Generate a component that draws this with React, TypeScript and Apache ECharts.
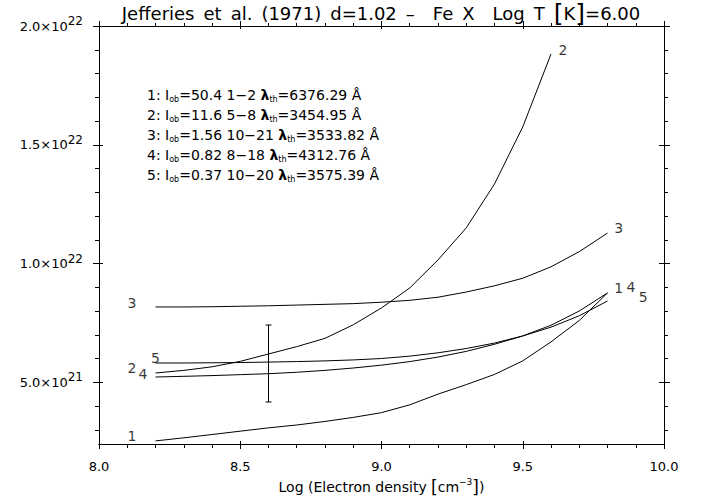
import React, { useEffect, useRef } from "react";
import * as echarts from "echarts";

const FONT = "DejaVu Sans";

// x: log electron density
const densityLog = [8.2, 8.3, 8.4, 8.5, 8.6, 8.7, 8.8, 8.9, 9.0, 9.1, 9.2, 9.3, 9.4, 9.5, 9.6, 9.7, 9.8];
// y values in units of 1e21
const curve1 = [2.53, 2.66, 2.8, 2.94, 3.08, 3.2, 3.35, 3.52, 3.72, 4.05, 4.5, 4.9, 5.33, 5.9, 6.7, 7.6, 8.76];
const curve2 = [5.39, 5.5, 5.65, 5.88, 6.19, 6.5, 6.85, 7.42, 8.13, 8.97, 10.15, 11.5, 13.35, 15.75, 18.82];
const curve3 = [8.17, 8.17, 8.18, 8.2, 8.22, 8.25, 8.28, 8.31, 8.37, 8.45, 8.58, 8.8, 9.06, 9.38, 9.86, 10.5, 11.28];
const curve4 = [5.22, 5.25, 5.28, 5.32, 5.36, 5.42, 5.5, 5.6, 5.72, 5.87, 6.06, 6.3, 6.6, 6.95, 7.4, 8.0, 8.76];
const curve5 = [5.81, 5.81, 5.82, 5.83, 5.85, 5.87, 5.9, 5.94, 6.0, 6.1, 6.24, 6.42, 6.65, 6.95, 7.32, 7.8, 8.42];
const curves = [curve1, curve2, curve3, curve4, curve5];

const UNIT_EXP = 21;
const xRange = [8, 10];
const yRange = [2.4, 20];
const xTickStep = 0.5;
const yLabelValues = [5, 10, 15, 20];
const yMinorValues = [3, 4, 6, 7, 8, 9, 11, 12, 13, 14, 16, 17, 18, 19];

// error bar: [x, low, high]
const errorBar = [[8.6, 4.17, 7.41]];

// curve number labels: [x, y, text]
const curveLabels: [number, number, string][] = [
  [8.117, 8.34, "3"],
  [8.2, 6.02, "5"],
  [8.117, 5.6, "2"],
  [8.156, 5.35, "4"],
  [8.117, 2.74, "1"],
  [9.642, 18.99, "2"],
  [9.84, 11.5, "3"],
  [9.84, 8.97, "1"],
  [9.883, 9.01, "4"],
  [9.926, 8.59, "5"],
];

const SP = "\u2002";
const titleText = `Jefferies${SP}et${SP}al.${SP}(1971)${SP}d=1.02${SP}\u2013${SP}${SP}Fe${SP}X${SP}${SP}Log${SP}T${SP}{br|[}K{br|]}=6.00`;
const legendLines = [
  "1: I{sub|ob}=50.4 1\u22122 {lam|\u03bb}{sub|th}=6376.29 \u00c5",
  "2: I{sub|ob}=11.6 5\u22128 {lam|\u03bb}{sub|th}=3454.95 \u00c5",
  "3: I{sub|ob}=1.56 10\u221221 {lam|\u03bb}{sub|th}=3533.82 \u00c5",
  "4: I{sub|ob}=0.82 8\u221218 {lam|\u03bb}{sub|th}=4312.76 \u00c5",
  "5: I{sub|ob}=0.37 10\u221220 {lam|\u03bb}{sub|th}=3575.39 \u00c5",
];
const xAxisName = "Log (Electron density {br|[}cm{sup|\u22123}{br|]})";

function sciLabel(v: number) {
  const val = v * Math.pow(10, UNIT_EXP);
  const e = Math.floor(Math.log10(val) + 1e-9);
  const m = val / Math.pow(10, e);
  return `{b|${m.toFixed(1)}\u00d710}{sup|${e}}`;
}

export default function App() {
  const ref = useRef<HTMLDivElement>(null);
  useEffect(() => {
    if (!ref.current) return;
    const chart = echarts.init(ref.current, undefined, { renderer: "svg" });
    const black = "#000";
    const lineAxis = { show: true, lineStyle: { color: black, width: 1 } };

    const xBase = (extra: any) => ({
      type: "value",
      min: xRange[0],
      max: xRange[1],
      interval: xTickStep,
      axisLine: lineAxis,
      splitLine: { show: false },
      axisLabel: { show: false },
      ...extra,
    });
    const yBase = (extra: any) => ({
      type: "value",
      min: yRange[0],
      max: yRange[1],
      axisLine: lineAxis,
      splitLine: { show: false },
      axisLabel: { show: false },
      ...extra,
    });

    const option: any = {
      animation: false,
      backgroundColor: "#fff",
      grid: { left: 99, right: 42, top: 26, bottom: 53, containLabel: false, outerBoundsMode: "none" },
      xAxis: [
        xBase({
          position: "bottom",
          axisTick: { show: true, inside: false, length: 5, lineStyle: { color: black } },
          minorTick: { show: true, splitNumber: 5, length: 4, lineStyle: { color: black } },
          axisLabel: {
            show: true,
            margin: 16,
            fontSize: 13,
            fontFamily: FONT,
            color: black,
            formatter: (v: number) => v.toFixed(1),
          },
          name: xAxisName,
          nameLocation: "middle",
          nameGap: 27,
          nameTextStyle: {
            fontSize: 14,
            fontFamily: FONT,
            color: black,
            lineHeight: 18,
            rich: {
              br: { fontSize: 17, fontFamily: FONT, color: black, lineHeight: 18 },
              sup: { fontSize: 9, fontFamily: FONT, color: black, lineHeight: 10, verticalAlign: "top" },
            },
          },
        }),
        xBase({ position: "bottom", axisTick: { show: true, inside: true, length: 3, lineStyle: { color: black } } }),
        xBase({
          position: "top",
          axisTick: { show: true, inside: false, length: 5, lineStyle: { color: black } },
          minorTick: { show: true, splitNumber: 5, length: 3, lineStyle: { color: black } },
        }),
        xBase({ position: "top", axisTick: { show: true, inside: true, length: 3, lineStyle: { color: black } } }),
      ],
      yAxis: [
        yBase({
          position: "left",
          axisTick: { show: true, inside: false, length: 6, customValues: yLabelValues, lineStyle: { color: black } },
          axisLabel: {
            show: true,
            customValues: yLabelValues,
            margin: 16,
            fontSize: 13,
            fontFamily: FONT,
            color: black,
            lineHeight: 22,
            formatter: (v: number) => sciLabel(v),
            rich: {
              b: { fontSize: 13, fontFamily: FONT, color: black, lineHeight: 22 },
              sup: { fontSize: 12, fontFamily: FONT, color: black, lineHeight: 12, verticalAlign: "top" },
            },
          },
        }),
        yBase({ position: "left", axisTick: { show: true, inside: false, length: 4, customValues: yMinorValues, lineStyle: { color: black } } }),
        yBase({ position: "left", axisTick: { show: true, inside: true, length: 4, customValues: yLabelValues, lineStyle: { color: black } } }),
        yBase({ position: "right", axisTick: { show: true, inside: false, length: 6, customValues: yLabelValues, lineStyle: { color: black } } }),
        yBase({ position: "right", axisTick: { show: true, inside: false, length: 4, customValues: yMinorValues, lineStyle: { color: black } } }),
        yBase({ position: "right", axisTick: { show: true, inside: true, length: 5, customValues: yLabelValues, lineStyle: { color: black } } }),
      ],
      series: [
        ...curves.map((c, i) => ({
          name: `curve ${i + 1}`,
          type: "line",
          xAxisIndex: 0,
          yAxisIndex: 0,
          data: c.map((y, j) => [densityLog[j], y]),
          symbol: "none",
          silent: true,
          lineStyle: { color: black, width: 1 },
        })),
        {
          name: "labels",
          type: "scatter",
          xAxisIndex: 0,
          yAxisIndex: 0,
          symbolSize: 0.1,
          itemStyle: { color: "rgba(0,0,0,0)" },
          silent: true,
          data: curveLabels.map((d) => ({ value: [d[0], d[1]], name: d[2] })),
          label: {
            show: true,
            position: "inside",
            formatter: "{b}",
            fontSize: 14,
            fontFamily: FONT,
            color: black,
          },
        },
        {
          name: "error",
          type: "custom",
          xAxisIndex: 0,
          yAxisIndex: 0,
          silent: true,
          data: errorBar,
          encode: { x: 0, y: [1, 2] },
          renderItem: (params: any, api: any) => {
            const x = api.value(0);
            const lo = api.coord([x, api.value(1)]);
            const hi = api.coord([x, api.value(2)]);
            const w = 3;
            const st = { stroke: black, lineWidth: 1 };
            return {
              type: "group",
              children: [
                { type: "line", shape: { x1: lo[0], y1: lo[1], x2: hi[0], y2: hi[1] }, style: st },
                { type: "line", shape: { x1: lo[0] - w, y1: lo[1], x2: lo[0] + w, y2: lo[1] }, style: st },
                { type: "line", shape: { x1: hi[0] - w, y1: hi[1], x2: hi[0] + w, y2: hi[1] }, style: st },
              ],
            };
          },
        },
      ],
      graphic: [
        {
          type: "text",
          x: 381,
          y: 13,
          style: {
            text: titleText,
            align: "center",
            verticalAlign: "middle",
            fontSize: 18,
            fontFamily: FONT,
            fill: black,
            lineHeight: 25,
            rich: {
              br: { fontSize: 25, fontFamily: FONT, fill: black, lineHeight: 25 },
            },
          },
        },
        ...legendLines.map((t, i) => ({
          type: "text",
          x: 147,
          y: 95 + i * 20,
          style: {
            text: t,
            align: "left",
            verticalAlign: "middle",
            fontSize: 14,
            fontFamily: FONT,
            fill: black,
            lineHeight: 17,
            rich: {
              sub: { fontSize: 8, fontFamily: FONT, fill: black, lineHeight: 9, verticalAlign: "bottom" },
              lam: { fontSize: 14, fontFamily: FONT, fontWeight: "bold", fill: black, lineHeight: 17 },
            },
          },
        })),
      ],
    };
    chart.setOption(option);
    return () => chart.dispose();
  }, []);
  return <div ref={ref} style={{ position: "fixed", left: 0, top: 0, width: 706, height: 497 }} />;
}
